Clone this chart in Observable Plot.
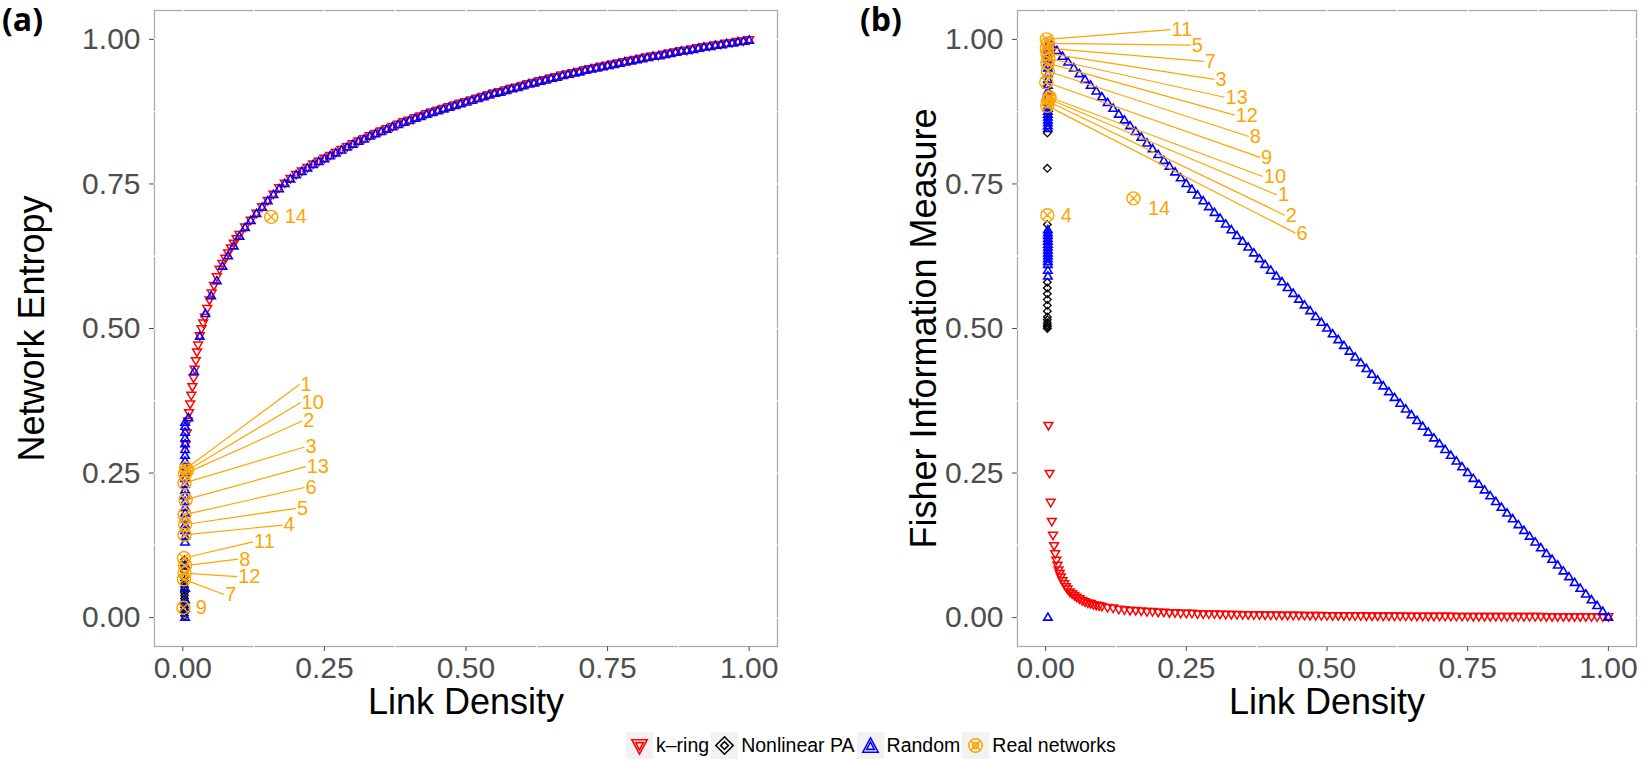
<!DOCTYPE html>
<html><head><meta charset="utf-8">
<script src="https://cdn.jsdelivr.net/npm/d3@7"></script>
<script src="https://cdn.jsdelivr.net/npm/@observablehq/plot@0.6"></script>
<style>
body{margin:0;background:#fff;}
#fig{position:relative;width:1646px;height:761px;font-family:"Liberation Sans",Arial,Helvetica,sans-serif;}
.panel{position:absolute;top:0;}
.tag{position:absolute;top:0px;font-family:"Open Sans","DejaVu Sans",sans-serif;font-weight:700;font-size:32px;line-height:38px;color:#000;}
#legend{position:absolute;top:732px;left:626px;display:flex;align-items:center;font-size:19.5px;color:#000;white-space:nowrap;}
#legend .key{width:27px;height:27px;background:#f2f2f2;display:inline-block;margin-right:3px;}
#legend .item{display:flex;align-items:center;margin-right:2px;}
</style></head><body>
<div id="fig">
  <div id="pa" class="panel" style="left:0"></div>
  <div id="pb" class="panel" style="left:823px"></div>
  <div class="tag" style="left:2px">(a)</div>
  <div class="tag" style="left:860px">(b)</div>
  <div id="legend"></div>
</div>
<script>
// ---------------- data ----------------
const tickValues = [0, 0.25, 0.5, 0.75, 1];
const gridValues = [0, 0.125, 0.25, 0.375, 0.5, 0.625, 0.75, 0.875, 1];
const seriesNames = ["k\u2013ring", "Nonlinear PA", "Random", "Real networks"];

// k-ring networks
const kringDensity = [0.005,0.007,0.009,0.011,0.013,0.015,0.017,0.019,0.021,0.023,
  0.025,0.027,0.030,0.033,0.036,0.039,0.043,0.047,0.051,0.055,
  0.060,0.065,0.070,0.075,0.080,0.085,0.090,0.095,0.100,
  0.11,0.12,0.13,0.14,0.15,0.16,0.17,0.18,0.19,0.20,
  0.21,0.22,0.23,0.24,0.25,0.26,0.27,0.28,0.29,0.30,
  0.31,0.32,0.33,0.34,0.35,0.36,0.37,0.38,0.39,0.40,
  0.41,0.42,0.43,0.44,0.45,0.46,0.47,0.48,0.49,0.50,
  0.51,0.52,0.53,0.54,0.55,0.56,0.57,0.58,0.59,0.60,
  0.61,0.62,0.63,0.64,0.65,0.66,0.67,0.68,0.69,0.70,
  0.71,0.72,0.73,0.74,0.75,0.76,0.77,0.78,0.79,0.80,
  0.81,0.82,0.83,0.84,0.85,0.86,0.87,0.88,0.89,0.90,
  0.91,0.92,0.93,0.94,0.95,0.96,0.97,0.98,0.99,1.00];
const kringEntropy = [0.300,0.320,0.340,0.355,0.370,0.385,0.400,0.415,0.430,0.445,
  0.460,0.472,0.488,0.500,0.510,0.520,0.535,0.550,0.562,0.575,
  0.590,0.603,0.613,0.622,0.631,0.640,0.648,0.656,0.663,
  0.676,0.688,0.700,0.711,0.722,0.733,0.744,0.752,0.760,0.767,
  0.773,0.779,0.785,0.790,0.795,0.800,0.805,0.810,0.815,0.820,
  0.825,0.829,0.834,0.838,0.842,0.846,0.850,0.854,0.858,0.861,
  0.865,0.868,0.872,0.875,0.878,0.881,0.884,0.887,0.890,0.893,
  0.896,0.899,0.902,0.905,0.908,0.910,0.913,0.916,0.918,0.921,
  0.924,0.926,0.929,0.931,0.934,0.936,0.939,0.941,0.943,0.945,
  0.948,0.950,0.952,0.954,0.956,0.958,0.960,0.962,0.964,0.966,
  0.968,0.970,0.972,0.973,0.975,0.977,0.979,0.981,0.982,0.984,
  0.986,0.988,0.989,0.991,0.992,0.994,0.995,0.997,0.998,1.000];
const kringFisher = [0.333,0.250,0.200,0.167,0.143,0.125,0.111,0.100,0.091,0.083,
  0.077,0.071,0.0645,0.059,0.054,0.050,0.045,0.042,0.039,0.036,
  0.033,0.030,0.028,0.026,0.025,0.023,0.022,0.021,0.020,
  0.018,0.017,0.015,0.014,0.013,0.013,0.012,0.011,0.011,0.010,
  0.010,0.009,0.009,0.008,0.008,0.008,0.007,0.007,0.007,0.007,
  0.0065,0.0063,0.0061,0.0059,0.0057,0.0056,0.0054,0.0053,0.0051,0.0050,
  0.0049,0.0048,0.0047,0.0046,0.0045,0.0044,0.0043,0.0042,0.0041,0.0040,
  0.0039,0.0039,0.0038,0.0037,0.0036,0.0036,0.0035,0.0035,0.0034,0.0033,
  0.0033,0.0032,0.0032,0.0031,0.0031,0.0030,0.0030,0.0029,0.0029,0.0029,
  0.0028,0.0028,0.0027,0.0027,0.0027,0.0026,0.0026,0.0026,0.0025,0.0025,
  0.0025,0.0024,0.0024,0.0024,0.0023,0.0023,0.0023,0.0023,0.0022,0.0022,
  0.0022,0.0022,0.0021,0.0021,0.0021,0.0021,0.0020,0.0020,0.0020,0.0020];

// random networks along the full density range
const randomDensity = [0.01,0.02,0.03,0.04,0.05,0.06,0.07,0.08,0.09,0.10,
  0.11,0.12,0.13,0.14,0.15,0.16,0.17,0.18,0.19,0.20,
  0.21,0.22,0.23,0.24,0.25,0.26,0.27,0.28,0.29,0.30,
  0.31,0.32,0.33,0.34,0.35,0.36,0.37,0.38,0.39,0.40,
  0.41,0.42,0.43,0.44,0.45,0.46,0.47,0.48,0.49,0.50,
  0.51,0.52,0.53,0.54,0.55,0.56,0.57,0.58,0.59,0.60,
  0.61,0.62,0.63,0.64,0.65,0.66,0.67,0.68,0.69,0.70,
  0.71,0.72,0.73,0.74,0.75,0.76,0.77,0.78,0.79,0.80,
  0.81,0.82,0.83,0.84,0.85,0.86,0.87,0.88,0.89,0.90,
  0.91,0.92,0.93,0.94,0.95,0.96,0.97,0.98,0.99,1.00];
const randomEntropy = [0.345,0.425,0.486,0.525,0.556,0.582,0.607,0.625,0.642,0.659,
  0.674,0.686,0.698,0.709,0.720,0.731,0.741,0.750,0.758,0.765,
  0.771,0.777,0.783,0.788,0.793,0.798,0.803,0.808,0.813,0.818,
  0.823,0.827,0.832,0.836,0.840,0.844,0.848,0.852,0.856,0.859,
  0.863,0.866,0.870,0.873,0.876,0.879,0.882,0.885,0.888,0.891,
  0.894,0.897,0.900,0.903,0.906,0.908,0.911,0.914,0.916,0.919,
  0.922,0.924,0.927,0.929,0.932,0.934,0.937,0.939,0.941,0.943,
  0.946,0.948,0.950,0.952,0.954,0.956,0.958,0.960,0.962,0.964,
  0.966,0.968,0.970,0.971,0.973,0.975,0.977,0.979,0.980,0.982,
  0.984,0.986,0.987,0.989,0.990,0.992,0.993,0.995,0.996,0.998];
const randomFisher = [0.99,0.98,0.97,0.96,0.95,0.94,0.93,0.92,0.91,0.90,
  0.89,0.88,0.87,0.86,0.85,0.84,0.83,0.82,0.81,0.80,
  0.79,0.78,0.77,0.76,0.75,0.74,0.73,0.72,0.71,0.70,
  0.69,0.68,0.67,0.66,0.65,0.64,0.63,0.62,0.61,0.60,
  0.59,0.58,0.57,0.56,0.55,0.54,0.53,0.52,0.51,0.50,
  0.49,0.48,0.47,0.46,0.45,0.44,0.43,0.42,0.41,0.40,
  0.39,0.38,0.37,0.36,0.35,0.34,0.33,0.32,0.31,0.30,
  0.29,0.28,0.27,0.26,0.25,0.24,0.23,0.22,0.21,0.20,
  0.19,0.18,0.17,0.16,0.15,0.14,0.13,0.12,0.11,0.10,
  0.09,0.08,0.07,0.06,0.05,0.04,0.03,0.02,0.01,0.00];

// sparse random networks (density close to zero)
const randomSparseEntropy = [0.000,0.015,0.030,0.050,0.090,0.130,0.140,0.150,0.160,0.170,
  0.180,0.190,0.200,0.210,0.220,0.230,0.240,0.250,0.260,0.270,0.280,0.290,0.300,0.310,0.320,0.330,0.337];
const randomSparseFisher = [0.000,0.590,0.600,0.610,0.615,0.620,0.625,0.630,0.635,0.640,0.645,0.650,0.655,
  0.660,0.665,0.670,0.845,0.850,0.855,0.860,0.865,0.870,0.875,0.880,0.890,0.900,0.910,0.920,
  0.930,0.940,0.950,0.955,0.960,0.965,0.970,0.975,0.980,0.985,0.990];
const randomSparseDensity = 0.004;

// nonlinear preferential attachment networks (density close to zero)
const paEntropy = [0.003,0.008,0.013,0.018,0.023,0.028,0.033,0.038,0.043,0.048,0.053,0.058,0.064,0.070,0.080,0.090,0.100];
const paFisher = [0.500,0.503,0.506,0.510,0.515,0.520,0.530,0.540,0.550,0.560,0.570,0.580,0.680,0.777,0.838,0.880,0.920];
const paDensity = 0.003;

// real networks 1..14
const realIds      = ["1","2","3","4","5","6","7","8","9","10","11","12","13","14"];
const realDensity  = [0.006,0.004,0.003,0.003,0.004,0.003,0.002,0.004,0.001,0.007,0.002,0.003,0.005,0.156];
const realEntropy  = [0.258,0.249,0.233,0.143,0.161,0.178,0.066,0.090,0.017,0.254,0.103,0.077,0.204,0.693];
const realFisher   = [0.897,0.893,0.976,0.696,0.993,0.885,0.985,0.945,0.926,0.900,1.000,0.959,0.967,0.725];
// repelled label anchors (data units)
const labelAX = [0.206,0.211,0.215,0.176,0.200,0.215,0.073,0.098,0.021,0.208,0.124,0.096,0.217,0.178];
const labelAY = [0.403,0.340,0.295,0.160,0.189,0.225,0.040,0.101,0.017,0.372,0.131,0.071,0.261,0.693];
const labelBX = [0.411,0.425,0.300,0.025,0.258,0.444,0.281,0.361,0.381,0.386,0.222,0.336,0.318,0.180];
const labelBY = [0.731,0.696,0.931,0.696,0.990,0.665,0.962,0.832,0.796,0.763,1.017,0.869,0.900,0.708];

// ---------------- symbols ----------------
const rad = s => Math.sqrt(s / Math.PI);
const triDown = {draw(c, s){const r = rad(s); c.moveTo(-r, -0.6*r); c.lineTo(r, -0.6*r); c.lineTo(0, 1.1*r); c.closePath();}};
const triUp = {draw(c, s){const r = rad(s); c.moveTo(-r, 0.6*r); c.lineTo(r, 0.6*r); c.lineTo(0, -1.1*r); c.closePath();}};
const diamond = {draw(c, s){const r = rad(s); c.moveTo(0, -r); c.lineTo(r, 0); c.lineTo(0, r); c.lineTo(-r, 0); c.closePath();}};
const circX = {draw(c, s){const r = rad(s), k = r*0.7071; c.moveTo(r, 0); c.arc(0, 0, r, 0, 2*Math.PI); c.moveTo(-k,-k); c.lineTo(k,k); c.moveTo(-k,k); c.lineTo(k,-k);}};

const RED = "#ff0000", BLUE = "#0000ff", BLACK = "#000000", ORANGE = "#ffa500";
const FONT = '"Liberation Sans", Arial, Helvetica, sans-serif';

const kring = kringDensity.map((d, i) => ({x: d, e: kringEntropy[i], f: kringFisher[i]}));
const random = randomDensity.map((d, i) => ({x: d, e: randomEntropy[i], f: randomFisher[i]}));
const real = realIds.map((id, i) => ({id, x: realDensity[i], e: realEntropy[i], f: realFisher[i],
  ax: labelAX[i], ay: labelAY[i], bx: labelBX[i], by: labelBY[i]}));

function panel({yKey, yTitle, marginLeft, marginRight, titleDx, sparseRandom, pa, lx, ly}) {
  const far = real.filter(d => Math.hypot(d[lx] - d.x, d[ly] - d[yKey]) > 0.045);
  return Plot.plot({
    width: 823, height: 720,
    marginLeft, marginRight, marginTop: 10, marginBottom: 74,
    x: {domain: [-0.05, 1.05]},
    y: {domain: [-0.05, 1.05]},
    style: {fontFamily: FONT, background: "white", overflow: "visible"},
    marks: [
      Plot.frame({stroke: "#ababab", strokeWidth: 1.3}),
      Plot.ruleX(gridValues, {y1: -0.054, y2: 1.054, stroke: "white", strokeWidth: 1.3}),
      Plot.ruleY(gridValues, {x1: -0.054, x2: 1.054, stroke: "white", strokeWidth: 1.3}),
      Plot.axisX(tickValues, {tickFormat: d3.format(".2f"), tickSize: 5, tickPadding: 5, fontSize: 30, color: "#4d4d4d", label: null}),
      Plot.axisY(tickValues, {tickFormat: d3.format(".2f"), tickSize: 5, tickPadding: 9, fontSize: 30, color: "#4d4d4d", label: null}),
      Plot.text(["Link Density"], {text: d => d, frameAnchor: "bottom", lineAnchor: "middle", textAnchor: "middle", dy: 56, fontSize: 36, fill: "black"}),
      Plot.text([yTitle], {text: d => d, frameAnchor: "left", textAnchor: "middle", lineAnchor: "middle", dx: titleDx, rotate: -90, fontSize: 36, fill: "black"}),
      // k-ring
      Plot.dot(kring, {x: "x", y: yKey, symbol: triDown, r: 4.4, stroke: RED, fill: "none", strokeWidth: 1.5}),
      // nonlinear PA
      Plot.dot(pa, {x: () => paDensity, y: d => d, symbol: diamond, r: 3.8, stroke: BLACK, fill: "none", strokeWidth: 1.3}),
      // random
      Plot.dot(sparseRandom, {x: () => randomSparseDensity, y: d => d, symbol: triUp, r: 4.2, stroke: BLUE, fill: "none", strokeWidth: 1.6}),
      Plot.dot(random, {x: "x", y: yKey, symbol: triUp, r: 4.2, stroke: BLUE, fill: "none", strokeWidth: 1.6}),
      // real networks with repelled labels
      Plot.link(far, {x1: "x", y1: yKey, x2: lx, y2: ly, stroke: ORANGE, strokeWidth: 1.2}),
      Plot.dot(real, {x: "x", y: yKey, symbol: circX, r: 6.5, stroke: ORANGE, fill: "none", strokeWidth: 1.4}),
      Plot.text(real, {x: lx, y: ly, text: "id", textAnchor: "start", fill: ORANGE, fontSize: 20, dx: 1})
    ]
  });
}

document.getElementById("pa").append(panel({yKey: "e", yTitle: "Network Entropy", marginLeft: 154, marginRight: 46,
  titleDx: -122, sparseRandom: randomSparseEntropy, pa: paEntropy, lx: "ax", ly: "ay"}));
document.getElementById("pb").append(panel({yKey: "f", yTitle: "Fisher Information Measure", marginLeft: 194, marginRight: 10,
  titleDx: -93, sparseRandom: randomSparseFisher, pa: paFisher, lx: "bx", ly: "by"}));

// ---------------- legend ----------------
const keyPaths = [
  `<path d="M6,8 L22,8 L14,23 Z M10,11 L18,11 L14,18.5 Z" fill="none" stroke="${RED}" stroke-width="1.6"/>`,
  `<path d="M14,5 L23,14 L14,23 L5,14 Z M14,10 L18,14 L14,18 L10,14 Z" fill="none" stroke="${BLACK}" stroke-width="1.6"/>`,
  `<path d="M6,21 L22,21 L14,6 Z M10,18 L18,18 L14,10.5 Z" fill="none" stroke="${BLUE}" stroke-width="1.6"/>`,
  `<g fill="none" stroke="${ORANGE}" stroke-width="1.6"><circle cx="14" cy="14" r="7"/><path d="M9,9 L19,19 M9,19 L19,9"/><circle cx="14" cy="14" r="3"/></g>`
];
document.getElementById("legend").innerHTML = seriesNames.map((n, i) =>
  `<span class="item"><svg class="key" viewBox="0 0 28 28">${keyPaths[i]}</svg><span>${n}</span></span>`).join("");
</script>
</body></html>
